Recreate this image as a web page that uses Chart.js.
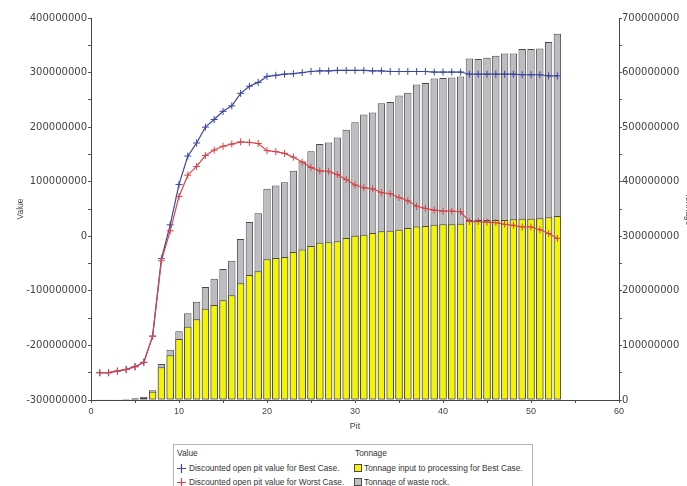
<!DOCTYPE html>
<html>
<head>
<meta charset="utf-8">
<script src="https://cdn.jsdelivr.net/npm/chart.js@4.4.1/dist/chart.umd.min.js"></script>
<style>
  html, body { margin: 0; padding: 0; overflow: hidden; background: #fff; }
  #wrap { position: relative; width: 687px; height: 486px; overflow: hidden; }
  #chart { position: absolute; left: 0; top: 0; }
  .legend {
    position: absolute; left: 173px; top: 444px; width: 358px; height: 60px;
    border: 1px solid #b4b4b4; background: #fff;
    font: 8.3px "Liberation Sans", Arial, sans-serif; color: #333;
  }
  .legend div { position: absolute; white-space: nowrap; line-height: 10px; }
  .legend svg { position: absolute; }
  .sw { position: absolute; width: 6px; height: 6px; border: 1px solid #4a4a4a; }
</style>
</head>
<body>
<div id="wrap">
  <canvas id="chart" width="700" height="486"></canvas>
  <div class="legend">
    <div style="left:3px; top:3px;">Value</div>
    <svg style="left:3px; top:19px;" width="9" height="9"><path d="M0 4.5H9M4.5 0V9" stroke="#3b47a0" stroke-width="1.2"/></svg>
    <div style="left:15px; top:18px;">Discounted open pit value for Best Case.</div>
    <svg style="left:3px; top:33px;" width="9" height="9"><path d="M0 4.5H9M4.5 0V9" stroke="#d8454a" stroke-width="1.2"/></svg>
    <div style="left:15px; top:32px;">Discounted open pit value for Worst Case.</div>
    <div style="left:181px; top:3px;">Tonnage</div>
    <span class="sw" style="left:180px; top:19px; background:#f4f400;"></span>
    <div style="left:190px; top:18px;">Tonnage input to processing for Best Case.</div>
    <span class="sw" style="left:180px; top:33px; background:#c0c0c3;"></span>
    <div style="left:190px; top:32px;">Tonnage of waste rock.</div>
  </div>
</div>
<script>
// pit number for each point / bar
const pits = [1, 2, 3, 4, 5, 6, 7, 8, 9, 10,
  11, 12, 13, 14, 15, 16, 17, 18, 19, 20,
  21, 22, 23, 24, 25, 26, 27, 28, 29, 30,
  31, 32, 33, 34, 35, 36, 37, 38, 39, 40,
  41, 42, 43, 44, 45, 46, 47, 48, 49, 50,
  51, 52, 53];

// values in millions (left axis)
const bestCase = [-250, -250, -247, -244, -239, -231, -183, -41, 21, 95,
  147, 171, 200, 214, 229, 239, 262, 275, 282, 293,
  295, 297, 298, 300, 302, 303, 303, 304, 304, 304,
  304, 303, 303, 302, 302, 302, 302, 302, 301, 301,
  301, 301, 297, 297, 297, 297, 297, 297, 296, 296,
  296, 294, 294];
const worstCase = [-250, -250, -247, -244, -239, -231, -183, -45, 10, 73,
  112, 128, 148, 158, 165, 169, 173, 172, 170, 157,
  155, 152, 145, 136, 126, 120, 119, 113, 104, 94,
  89, 87, 80, 78, 71, 65, 55, 51, 48, 46,
  46, 45, 27, 27, 26, 25, 22, 20, 17, 17,
  12, 5, -4];

// tonnage in millions (right axis): ore to processing, and ore + waste rock
const oreTonnage = [0, 0.5, 1, 1.5, 2, 4, 15, 60, 82, 112,
  134, 148, 167, 174, 183, 192, 214, 229, 236, 258,
  260, 262, 271, 276, 282, 288, 289, 291, 297, 301,
  303, 306, 309, 310, 312, 315, 318, 319, 321, 322,
  322, 323, 330, 330, 330, 330, 330, 331, 332, 332,
  333, 335, 337];
const totalTonnage = [0.5, 1, 1.5, 2, 3, 6, 18, 66, 92, 126,
  159, 180, 207, 222, 240, 255, 295, 326, 342, 387,
  393, 399, 420, 437, 456, 469, 472, 481, 495, 509,
  523, 527, 544, 546, 558, 563, 578, 581, 589, 590,
  591, 593, 626, 625, 627, 631, 635, 635, 643, 643,
  644, 656, 671];

const BLUE = '#3b47a0';
const RED = '#d8454a';
const axisColor = '#444';
const narrow = '"Liberation Sans Narrow", "Liberation Sans", Arial, sans-serif';
const wide = '"DejaVu Sans", sans-serif';

const toPoints = (vals) => pits.map((p, i) => ({ x: p, y: vals[i] }));
const bigLabel = (v) => v % 100 === 0 ? String(Math.round(v * 1000000)) : '';

function lineSet(label, vals, color, order) {
    return {
        type: 'line',
        label: label,
        data: toPoints(vals),
        yAxisID: 'y',
        borderColor: color,
        backgroundColor: color,
        borderWidth: 1.2,
        pointStyle: 'cross',
        pointRadius: 3.5,
        pointBorderWidth: 1,
        tension: 0,
        fill: false,
        order: order
    };
}

function barSet(label, vals, color, order) {
    return {
        type: 'bar',
        label: label,
        data: toPoints(vals),
        yAxisID: 'y1',
        backgroundColor: color,
        borderColor: '#4a4a4a',
        borderWidth: 1,
        borderSkipped: false,
        grouped: false,
        barPercentage: 0.84,
        categoryPercentage: 1,
        order: order
    };
}

new Chart(document.getElementById('chart'), {
    type: 'bar',
    data: {
        datasets: [
            lineSet('Discounted open pit value for Best Case.', bestCase, BLUE, 1),
            lineSet('Discounted open pit value for Worst Case.', worstCase, RED, 0),
            barSet('Tonnage input to processing for Best Case.', oreTonnage, '#f4f400', 2),
            barSet('Tonnage of waste rock.', totalTonnage, '#bdbdc1', 3)
        ]
    },
    options: {
        responsive: false,
        animation: false,
        layout: { padding: { top: 18, left: 0, right: 0, bottom: 0 } },
        plugins: {
            legend: { display: false },
            tooltip: { enabled: false }
        },
        scales: {
            x: {
                type: 'linear',
                min: 0,
                max: 60,
                offset: false,
                grid: { offset: false, drawOnChartArea: false, tickLength: 3, color: '#555' },
                border: { color: axisColor },
                ticks: {
                    stepSize: 5, padding: 3, maxRotation: 0, autoSkip: false,
                    color: axisColor, font: { family: narrow, size: 9 },
                    callback: (v) => v % 10 === 0 ? String(v) : ''
                },
                title: {
                    display: true, text: 'Pit', color: axisColor,
                    font: { family: narrow, size: 9 },
                    padding: { top: 0, bottom: 54 }
                },
                afterFit: (s) => { s.height = 86; }
            },
            y: {
                position: 'left',
                min: -300,
                max: 400,
                grid: { drawOnChartArea: false, tickLength: 3, color: '#555' },
                border: { color: axisColor },
                ticks: {
                    stepSize: 50, padding: 1, autoSkip: false,
                    color: axisColor, font: { family: wide, size: 10 },
                    callback: bigLabel
                },
                title: {
                    display: true, text: 'Value', color: axisColor,
                    font: { family: narrow, size: 8.5 },
                    padding: { top: 15.5, bottom: 0 }
                },
                afterFit: (s) => { s.width = 91; }
            },
            y1: {
                position: 'right',
                min: 0,
                max: 700,
                stacked: false,
                grid: { drawOnChartArea: false, tickLength: 3, color: '#555' },
                border: { color: axisColor },
                ticks: {
                    stepSize: 50, padding: 0, autoSkip: false,
                    color: axisColor, font: { family: wide, size: 10 },
                    callback: bigLabel
                },
                title: {
                    display: true, text: 'Tonnage', color: axisColor,
                    font: { family: narrow, size: 8.5 },
                    padding: { top: 7, bottom: 0 }
                },
                afterFit: (s) => { s.width = 81; }
            }
        }
    }
});
</script>
</body>
</html>
